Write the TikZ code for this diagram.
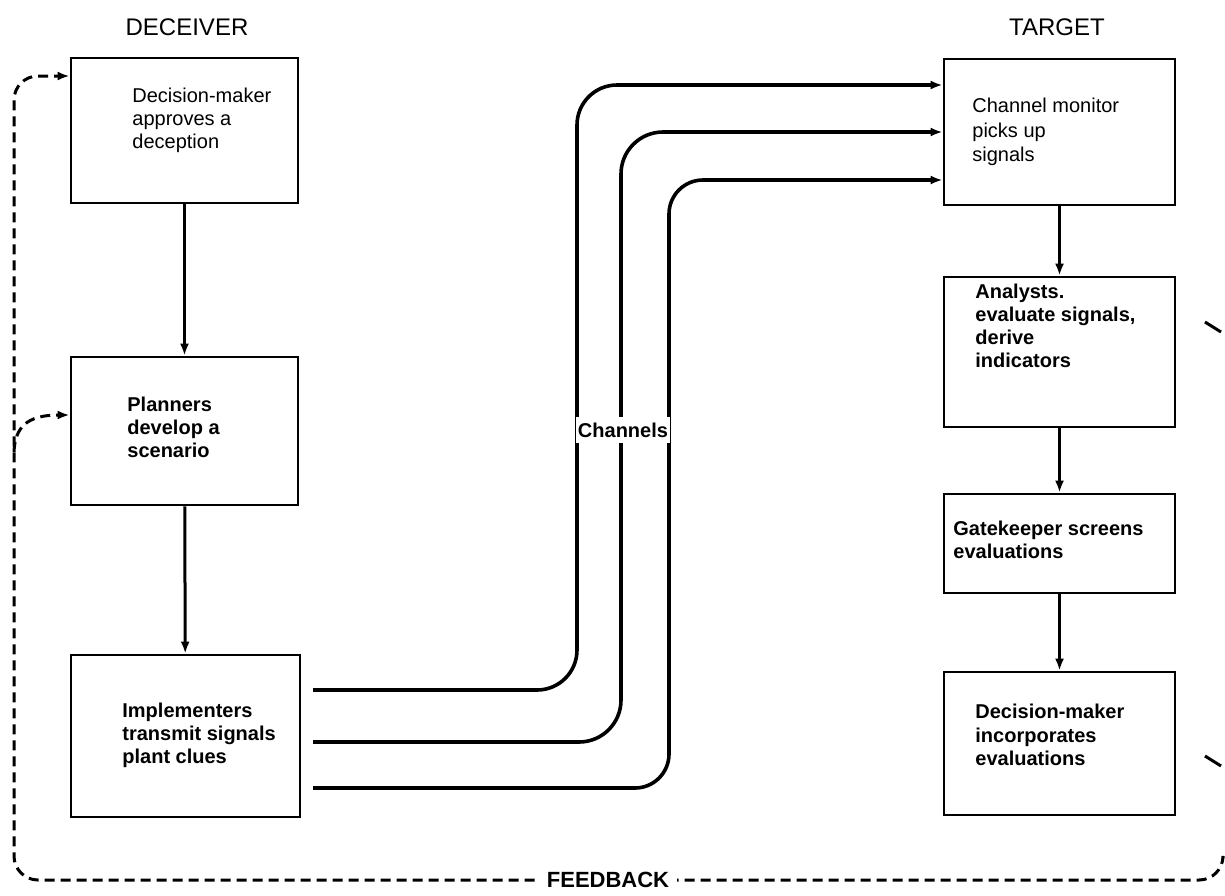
\documentclass[tikz,border=0pt]{standalone}
\usepackage{fontspec}
\setmainfont{Liberation Sans}
\usetikzlibrary{arrows.meta,calc}
\begin{document}
\begin{tikzpicture}[x=0.5pt,y=-0.5pt,
  box/.style={draw,line width=1.4pt,inner sep=0pt},
  txt/.style={align=left,anchor=west,inner sep=0pt,font=\fontsize{10}{11.5}\selectfont},
  txtb/.style={txt,font=\fontsize{10}{11.5}\selectfont\bfseries},
  txtt/.style={txt,font=\fontsize{10}{12.3}\selectfont},
  txttb/.style={txt,font=\fontsize{10}{11.6}\selectfont\bfseries},
  head/.style={font=\fontsize{12}{14}\selectfont,inner sep=0pt},
  flow/.style={line width=1.5pt,-{Latex[length=6pt,width=4.5pt]}},
  chan/.style={line width=1.8pt,-{Latex[length=6pt,width=4.5pt]}},
  fb/.style={line width=1.5pt,dash pattern=on 5pt off 3pt},
  fbarrow/.style={fb,-{Latex[length=6pt,width=4.5pt]}}]
\useasboundingbox (0,0) rectangle (1225,895);

% headers
\node[head] (hdec) at (187,27) {DECEIVER};
\node[head] (htar) at (1057,27) {TARGET};

% deceiver boxes
\node[box,minimum width=113.5pt,minimum height=72.5pt] (B1) at (184.5,130.5) {};
\node[box,minimum width=113.5pt,minimum height=74pt] (B2) at (184.5,431) {};
\node[box,minimum width=114.5pt,minimum height=81pt] (B3) at (185.5,736) {};
\node[txt] (t1) at (132,120) {Decision-maker\\approves a\\deception};
\node[txtb] (t2) at (127,427) {Planners\\develop a\\scenario};
\node[txtb] (t3) at (122,735) {Implementers\\transmit signals\\plant clues};

% target boxes
\node[box,minimum width=115.5pt,minimum height=73pt] (T1) at (1059.5,132) {};
\node[box,minimum width=115.5pt,minimum height=75pt] (T2) at (1059.5,352) {};
\node[box,minimum width=115.5pt,minimum height=49.5pt] (T3) at (1059.5,543.5) {};
\node[box,minimum width=115.5pt,minimum height=71.5pt] (T4) at (1059.5,743.5) {};
\node[txtt] (u1) at (972,132) {Channel monitor\\picks up\\signals};
\node[txttb] (u2) at (975,326) {Analysts.\\evaluate signals,\\derive\\indicators};
\node[txttb] (u3) at (953,540) {Gatekeeper screens\\evaluations};
\node[txttb] (u4) at (975,735) {Decision-maker\\incorporates\\evaluations};

% vertical flow arrows
\draw[flow] (B1) -- (B2);
\draw[flow] (B2) -- (B3);
\draw[flow] (T1) -- (T2);
\draw[flow] (T2) -- (T3);
\draw[flow] (T3) -- (T4);

% channels
\coordinate (c1) at (313,690);
\coordinate (c2) at (313,742);
\coordinate (c3) at (313,788);
\draw[chan,rounded corners=20pt] (c1) -- (577,690) -- (577,85) -- ([yshift=23.5pt]T1.west);
\draw[chan,rounded corners=21pt] (c2) -- (621,742) -- (621,132) -- (T1.west);
\draw[chan,rounded corners=17pt] (c3) -- (669,788) -- (669,180) -- ([yshift=-24pt]T1.west);
\node[fill=white,inner xsep=1pt,inner ysep=3pt,font=\fontsize{10}{12}\selectfont\bfseries] (chl) at (623,430) {Channels};

% feedback
\coordinate (fbR) at (1223,858);
\coordinate (fbB) at (14,452);
\draw[fbarrow,rounded corners=12pt] (fbR) -- (1223,880) -- (14,880) -- (14,76) -- ([yshift=27.25pt]B1.west);
\draw[fbarrow] (fbB) .. controls (15,428) and (26,415) .. ([yshift=8pt]B2.west);
\node[fill=white,inner xsep=4pt,inner ysep=2pt,font=\fontsize{11}{13}\selectfont\bfseries] (fbl) at (608,880) {FEEDBACK};

% stray feedback marks at right edge
\coordinate (m1a) at (1205,322);
\coordinate (m1b) at (1221,332);
\coordinate (m2a) at (1205,756);
\coordinate (m2b) at (1221,766);
\draw[line width=1.5pt] (m1a) -- (m1b);
\draw[line width=1.5pt] (m2a) -- (m2b);
\end{tikzpicture}
\end{document}
